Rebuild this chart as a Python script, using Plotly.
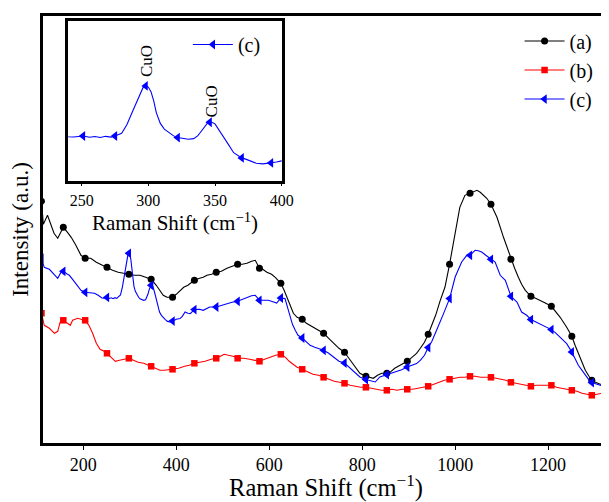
import plotly.graph_objects as go

# ---------------- data ----------------
# (a) black curve
SHIFT_A = [110, 114, 123, 130, 137, 145, 151, 157, 166, 174, 184, 195, 204, 216, 228, 240,
           251, 263, 275, 286, 298, 310, 322, 334, 346, 357, 365, 372, 380, 392, 400, 408,
           416, 425, 439, 450, 458, 466, 476, 486, 497, 509, 520, 532, 542, 552, 562, 570,
           579, 586, 595, 605, 613, 625, 632, 638, 645, 652, 660, 671, 680, 688, 698, 706,
           717, 728, 738, 750, 762, 770, 778, 787, 795, 808, 816, 824, 833, 842, 853, 860,
           870, 881, 889, 897, 907, 917, 925, 934, 942, 950, 958, 968, 978, 988, 1000, 1010,
           1021, 1032, 1040, 1047, 1054, 1061, 1068, 1077, 1090, 1104, 1120, 1128, 1136, 1143,
           1151, 1163, 1173, 1183, 1195, 1207, 1216, 1226, 1240, 1251, 1258, 1265, 1273, 1280,
           1288, 1294, 1302, 1312, 1322, 1331, 1340]
INT_A = [243, 220, 229, 221, 211, 206, 212, 217, 212, 207, 199, 189, 186, 186, 182, 179,
         177, 174, 172, 171, 170, 169, 169, 167, 165, 159, 154, 149, 147, 147, 150, 154,
         157, 159, 164, 166, 167, 169, 170, 172, 173, 176, 178, 180, 180, 181, 183, 184,
         176, 175, 172, 170, 167, 161, 154, 147, 138, 131, 127, 125, 121, 119, 116, 114,
         111, 106, 101, 96, 92, 87, 81, 76, 71, 68, 67, 66, 69, 71, 71, 72,
         76, 79, 81, 83, 87, 91, 96, 102, 110, 119, 129, 144, 157, 180, 211, 237,
         249, 251, 253, 254, 252, 249, 246, 240, 227, 207, 185, 176, 167, 160,
         154, 148, 146, 144, 141, 138, 133, 127, 117, 108, 99, 91, 81, 74,
         68, 64, 62, 60, 60, 59, 58]

# (b) red curve
SHIFT_B = [110, 116, 127, 138, 145, 150, 157, 166, 172, 177, 188, 195, 204, 212, 220, 228,
           236, 245, 251, 260, 269, 278, 288, 298, 308, 318, 330, 346, 355, 365, 375, 392,
           405, 418, 428, 439, 450, 462, 475, 486, 495, 503, 512, 522, 532, 545, 558, 568,
           579, 590, 602, 614, 625, 635, 643, 652, 660, 671, 683, 694, 706, 717, 728, 740,
           751, 762, 774, 785, 797, 808, 820, 831, 842, 853, 864, 875, 886, 897, 908, 920,
           931, 942, 954, 965, 977, 988, 999, 1010, 1021, 1032, 1043, 1055, 1066, 1077, 1088,
           1099, 1109, 1120, 1131, 1142, 1152, 1163, 1174, 1185, 1196, 1207, 1218, 1229, 1240,
           1251, 1262, 1273, 1283, 1294, 1305, 1316, 1327, 1340]
INT_B = [131, 119, 116, 111, 113, 122, 124, 121, 119, 124, 126, 125, 124, 119, 111, 101,
         95, 93, 91, 87, 83, 84, 85, 86, 84, 82, 81, 78, 76, 74, 74, 75,
         76, 78, 79, 81, 82, 83, 85, 86, 88, 90, 89, 88, 86, 86, 85, 84,
         83, 85, 87, 89, 90, 87, 83, 80, 77, 75, 72, 70, 69, 67, 65, 63,
         62, 61, 59, 58, 57, 57, 56, 55, 54, 54, 55, 54, 55, 55, 55, 56,
         57, 58, 60, 62, 64, 65, 66, 67, 67, 68, 68, 67, 67, 67, 66,
         65, 64, 62, 61, 60, 59, 58, 59, 59, 59, 59, 57, 56, 55,
         54, 53, 51, 50, 49, 50, 51, 50, 50]

# (c) blue curve (finer sampling around the CuO bands)
SHIFT_C = [110, 116, 127, 138, 145, 152, 157, 166, 170, 177, 184, 195, 204, 216, 224, 232,
           240, 244, 248, 251, 256, 260, 264, 268, 272, 275, 280, 284, 288, 291, 294, 296,
           298, 300, 302, 304, 306, 309, 312, 315, 319, 322, 326, 330, 334, 337, 339, 342,
           344, 346, 348, 350, 354, 357, 360, 364, 368, 370, 373, 376, 381, 386, 390, 392,
           396, 400, 408, 413, 419, 425, 430, 439, 450, 458, 465, 472, 486, 497, 509, 520,
           532, 542, 552, 562, 570, 579, 590, 598, 608, 616, 625, 630, 634, 640, 645, 650,
           656, 662, 671, 680, 688, 698, 706, 717, 728, 738, 750, 762, 770, 778, 787, 795,
           808, 818, 828, 838, 853, 864, 874, 885, 897, 907, 917, 925, 934, 942, 950, 960,
           968, 975, 988, 1000, 1014, 1025, 1032, 1043, 1050, 1057, 1066, 1077, 1086, 1097,
           1108, 1120, 1133, 1143, 1154, 1163, 1173, 1183, 1197, 1207, 1216, 1226, 1240, 1251,
           1258, 1265, 1273, 1280, 1287, 1294, 1303, 1312, 1322, 1331, 1340]
INT_C = [186, 177, 175, 169, 166, 172, 173, 170, 169, 165, 161, 154, 152, 151, 151, 149,
         146.3, 146.0, 146.8, 146.9, 145.8, 146.5, 145.6, 146.6, 145.9, 146.9, 149.3, 157, 168, 176, 185.5, 189.5,
         191.0, 190, 186, 178, 167.5, 158, 153, 150.2, 147, 145.5, 144.5, 144.0, 144.6, 147, 150, 155,
         157.8, 159.0, 158.8, 157.6, 150.8, 145, 139.5, 132.2, 129, 127.6, 126.5, 125.0, 122.9, 122.3, 122.8, 123.2,
         124, 125, 125.7, 128, 132.3, 131, 130.7, 134.7, 135, 134, 136, 137.3, 137.3, 139, 140.7, 142,
         143, 145, 147.3, 148.5, 149, 144, 144, 144, 142.5, 141.3, 146.3, 146, 145.7, 136, 127.3, 120,
         114, 109, 106.3, 102, 99, 97, 96, 94, 91, 87.3, 83, 81.3, 78, 74, 71, 67.3,
         64.7, 63.5, 62.3, 67.3, 69.7, 70.8, 72.3, 74.5, 77.3, 79, 80.7, 84, 89, 96.7, 103, 114,
         122, 130.7, 145.7, 167.3, 182.3, 189, 189, 194, 193.5, 192.3, 189, 185, 182.3, 169,
         164, 148, 142.3, 132.3, 129, 124.7, 122.5, 120.7, 117.3, 114.7, 111.5, 107.3, 100.7, 92.3,
         86, 79, 74, 69, 65, 61.7, 60, 59, 58.5, 58, 57.5]

MARKS = [110, 157, 204, 251, 298, 346, 392, 439, 486, 532, 579, 625, 671, 717, 762, 808,
         853, 897, 942, 988, 1032, 1077, 1120, 1163, 1207, 1251, 1294]
INSET_MARKS = [251, 275, 298, 322, 346, 370, 392]
LABELS = ["(a)", "(b)", "(c)"]
MAIN_TICKS = [200, 400, 600, 800, 1000, 1200]
INSET_TICKS = [250, 300, 350, 400]
CUO_PEAKS = [298, 346]

FONT = "Liberation Serif"
XTITLE = "Raman Shift (cm<sup>\u22121</sup>)"


def pick(xs, ys, marks):
    px = [m for m in marks if m in xs]
    return px, [ys[xs.index(m)] for m in px]


fig = go.Figure()

series = [
    (SHIFT_A, INT_A, "#000000", "circle", 7, LABELS[0]),
    (SHIFT_B, INT_B, "#ff0000", "square", 6.5, LABELS[1]),
    (SHIFT_C, INT_C, "#0000ff", "triangle-left", 8.5, LABELS[2]),
]

for xs, ys, col, sym, sz, lab in series:
    fig.add_trace(go.Scatter(x=xs, y=ys, mode="lines", line=dict(color=col, width=1.1),
                             showlegend=False, hoverinfo="skip", xaxis="x", yaxis="y"))
    mx, my = pick(xs, ys, MARKS)
    fig.add_trace(go.Scatter(x=mx, y=my, mode="markers",
                             marker=dict(color=col, symbol=sym, size=sz, line=dict(width=0)),
                             showlegend=False, xaxis="x", yaxis="y"))

for xs, ys, col, sym, sz, lab in series:
    fig.add_trace(go.Scatter(x=[None], y=[None], mode="lines+markers", name=lab,
                             line=dict(color=col, width=1.1),
                             marker=dict(color=col, symbol=sym, size=sz, line=dict(width=0)),
                             legend="legend", legendgroup=lab, xaxis="x", yaxis="y"))

# inset
fig.add_trace(go.Scatter(x=SHIFT_C, y=INT_C, mode="lines", line=dict(color="#0000ff", width=1.1),
                         showlegend=False, xaxis="x2", yaxis="y2"))
ix, iy = pick(SHIFT_C, INT_C, INSET_MARKS)
fig.add_trace(go.Scatter(x=ix, y=iy, mode="markers",
                         marker=dict(color="#0000ff", symbol="triangle-left", size=8.5, line=dict(width=0)),
                         showlegend=False, xaxis="x2", yaxis="y2"))
fig.add_trace(go.Scatter(x=[None], y=[None], mode="lines+markers", name=LABELS[2],
                         line=dict(color="#0000ff", width=1.1),
                         marker=dict(color="#0000ff", symbol="triangle-left", size=8.5, line=dict(width=0)),
                         legend="legend2", xaxis="x2", yaxis="y2"))

annos = []
for pk, ysh in zip(CUO_PEAKS, [7, 3]):
    annos.append(dict(x=pk, y=INT_C[SHIFT_C.index(pk)], xref="x2", yref="y2", text="CuO",
                      textangle=-90, showarrow=False, xanchor="center", yanchor="bottom",
                      xshift=1.5, yshift=ysh, font=dict(family=FONT, size=17, color="black")))

# the page body adds an 8px offset, so the figure is sized/placed to compensate
fig.update_layout(
    width=601, height=494,
    margin=dict(l=35, r=0, t=8, b=59),
    paper_bgcolor="white", plot_bgcolor="white",
    font=dict(family=FONT, color="black"),
    xaxis=dict(domain=[0, 1], anchor="y", range=[113.3, 1331], tickvals=MAIN_TICKS,
               ticks="outside", ticklen=4, tickwidth=1.3, tickcolor="black",
               showline=True, linewidth=2.5, linecolor="black", mirror=True,
               showgrid=False, zeroline=False, tickfont=dict(family=FONT, size=18),
               title=dict(text=XTITLE, font=dict(family=FONT, size=24.5), standoff=5),
               automargin=False),
    yaxis=dict(domain=[0, 1], anchor="x", range=[1.3, 428.3], showticklabels=False, ticks="",
               showline=True, linewidth=2.5, linecolor="black", mirror=False,
               showgrid=False, zeroline=False,
               title=dict(text="Intensity (a.u.)", font=dict(family=FONT, size=23), standoff=6),
               automargin=False),
    xaxis2=dict(domain=[0.0447, 0.4217], anchor="y2", range=[240, 400], tickvals=INSET_TICKS,
                ticks="outside", ticklen=3, tickwidth=1.2, tickcolor="black",
                showline=True, linewidth=2.5, linecolor="black", mirror=True,
                showgrid=False, zeroline=False, tickfont=dict(family=FONT, size=16),
                title=dict(text=XTITLE, font=dict(family=FONT, size=21), standoff=3),
                automargin=False),
    yaxis2=dict(domain=[0.6143, 0.9876], anchor="x2", range=[107.5, 248.0],
                showticklabels=False, ticks="", showline=True, linewidth=2.5,
                linecolor="black", mirror=True, showgrid=False, zeroline=False,
                automargin=False),
    legend=dict(x=0.842, y=0.987, xanchor="left", yanchor="top", bgcolor="rgba(0,0,0,0)",
                borderwidth=0, font=dict(family=FONT, size=20), tracegroupgap=0,
                itemwidth=40),
    legend2=dict(x=0.256, y=0.979, xanchor="left", yanchor="top", bgcolor="rgba(0,0,0,0)",
                 borderwidth=0, font=dict(family=FONT, size=20), itemwidth=40),
    annotations=annos,
)

fig.write_html("out.html")
